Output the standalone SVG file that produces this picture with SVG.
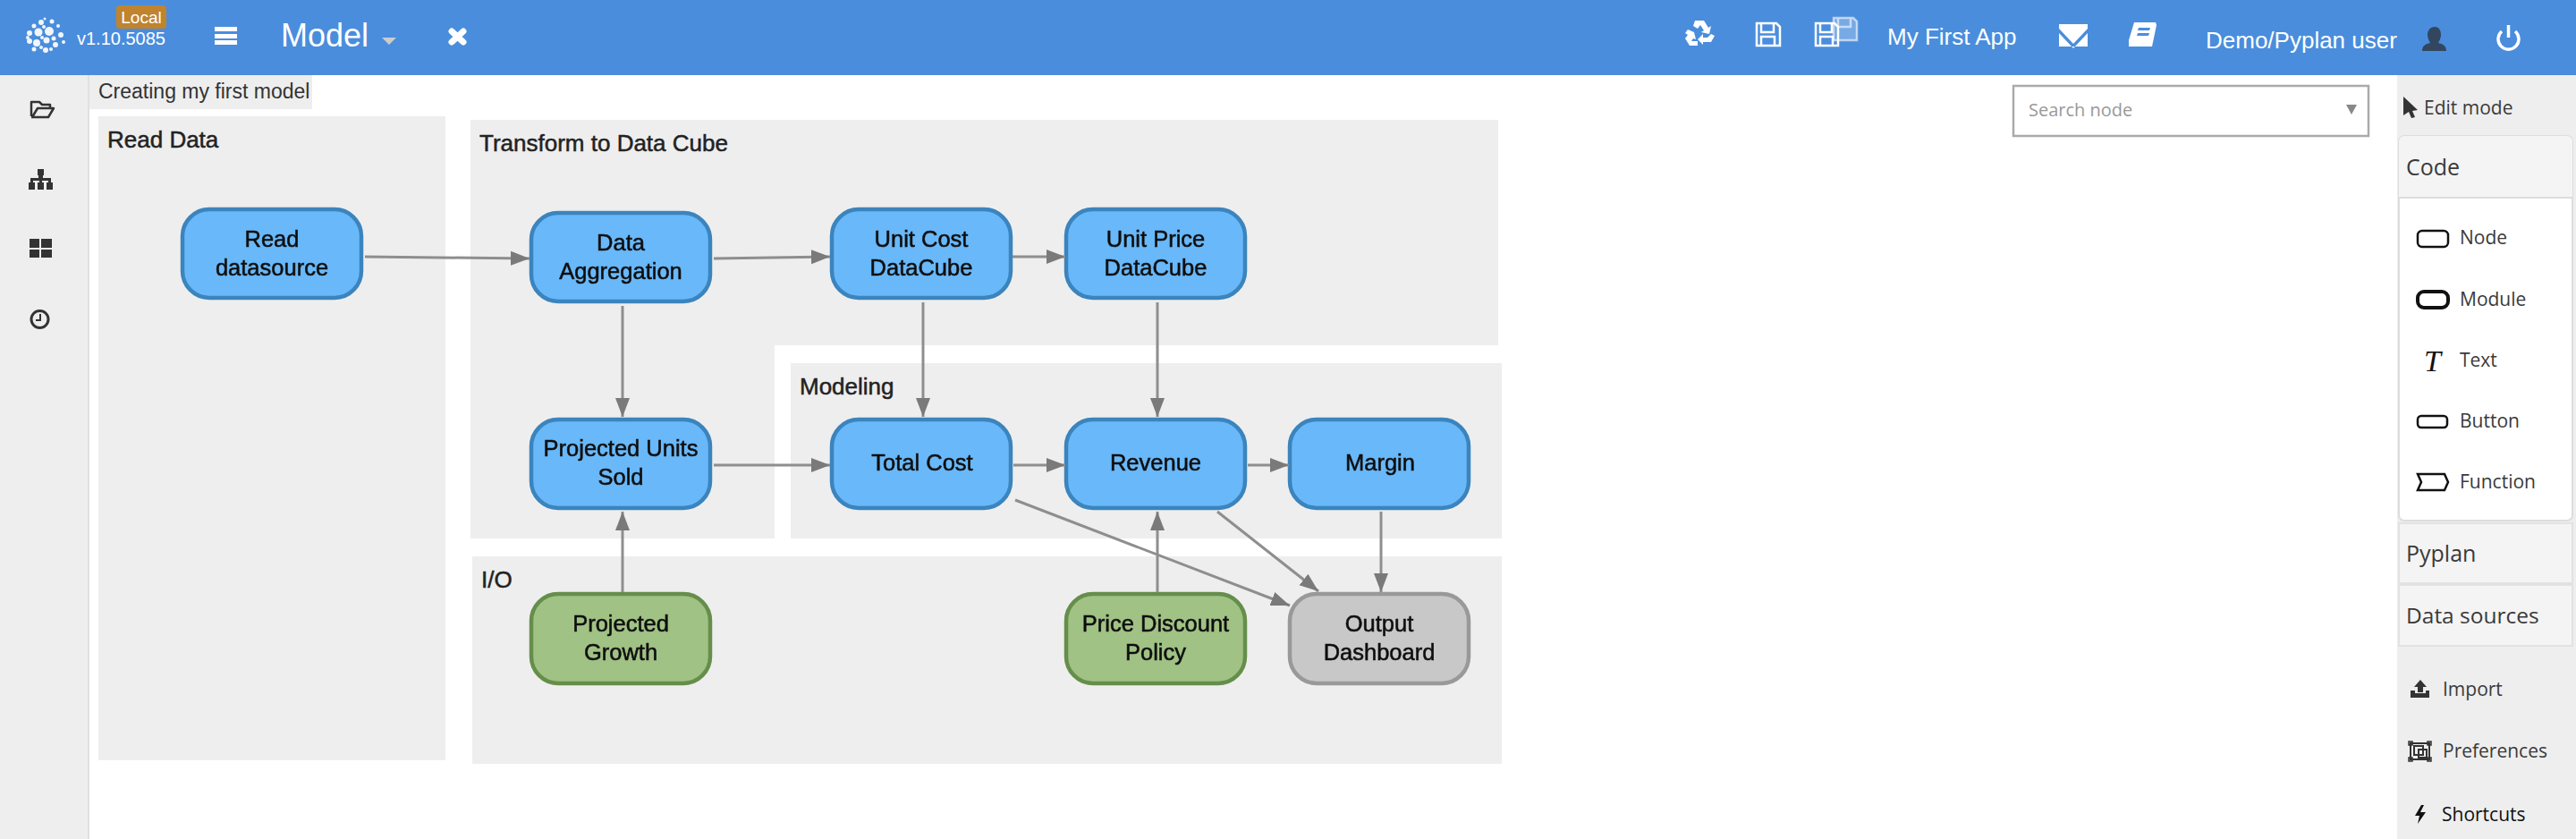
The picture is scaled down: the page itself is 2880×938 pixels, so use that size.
<svg xmlns="http://www.w3.org/2000/svg" width="2880" height="938" viewBox="0 0 2880 938">
<style>
text{font-family:"Liberation Sans",Arial,sans-serif}
.g{fill:#eee}
.gl{font-size:26px;fill:#222;stroke:#222;stroke-width:.5px}
.n rect{stroke-width:4.500}
.b rect{fill:#69b8f9;stroke:#3a84bd}
.gr rect{fill:#a0c284;stroke:#668e4c}
.o rect{fill:#c8c8c8;stroke:#999}
.n text{font-size:25.5px;fill:#111;stroke:#111;stroke-width:.55px;text-anchor:middle}
.c line{stroke:#8e8e8e;stroke-width:3;marker-end:url(#a)}
.h{fill:#fff}
.p{font-family:"Open Sans","Noto Sans",sans-serif;fill:#3a3a3a}
.pn{fill:#f4f4f4;stroke:#e2e2e2;stroke-width:2}
.ic{fill:none;stroke:#111;stroke-width:2.500}
.si{fill:#333}
</style>
<defs>
<marker id="a" markerUnits="userSpaceOnUse" markerWidth="24" markerHeight="20" refX="21" refY="10" orient="auto"><path d="M0 2L21 10L0 18Z" fill="#7a7a7a"/></marker>
<filter id="s" x="-2%" y="-2%" width="104%" height="104%"><feGaussianBlur stdDeviation="0.7"/></filter>
</defs>
<rect width="2880" height="938" fill="#fff"/>
<g id="left-sidebar">
<rect x="0" y="84" width="98" height="854" fill="#eee"/><rect x="98" y="84" width="2" height="854" fill="#e3dfe0"/>
<path d="M35 130V114h9l3 3h9v4M35 131h19l6-10H42l-6 10" fill="none" stroke="#333" stroke-width="2.500" stroke-linejoin="round"/>
<path class="si" d="M42 189h7v7h-1v3h9v5h2v8h-7v-8h2v-2h-7v2h2v8h-7v-8h2v-2h-7v2h2v8h-7v-8h2v-5h9v-3h-1z"/>
<path class="si" d="M33 267h11v10H33zM46 267h12v10H46zM33 279h11v9H33zM46 279h12v9H46z"/>
<circle cx="44.500" cy="357" r="9.500" fill="none" stroke="#333" stroke-width="3"/><path d="M45 351v7h-5" fill="none" stroke="#333" stroke-width="2"/>
</g>
<g id="header">
<rect width="2880" height="84" fill="#4a8ddc"/>
<g id="logo" fill="#fff" opacity=".92"><circle cx="43" cy="36" r="4.500"/><circle cx="55" cy="35" r="5"/><circle cx="41" cy="48" r="4"/><circle cx="52" cy="45" r="3.500"/><circle cx="62" cy="50" r="3"/><circle cx="68" cy="39" r="3"/><circle cx="33" cy="37" r="3"/><circle cx="33" cy="46" r="3"/><circle cx="46" cy="25" r="3"/><circle cx="58" cy="24" r="2.500"/><circle cx="51" cy="56" r="3"/><circle cx="38" cy="29" r="2.500"/><circle cx="65" cy="29" r="2"/><circle cx="71" cy="47" r="2"/><circle cx="47" cy="42" r="2"/><circle cx="60" cy="43" r="2.500"/><circle cx="38" cy="55" r="2.500"/><circle cx="57" cy="55" r="2"/><circle cx="31" cy="42" r="2"/><circle cx="50" cy="21" r="1.500"/><circle cx="46" cy="53" r="2"/><circle cx="49" cy="30" r="2"/></g>
<rect x="130" y="6" width="56" height="26" rx="4" fill="#c0832e"/>
<text x="158" y="26" font-size="19" fill="#fff" text-anchor="middle">Local</text>
<text x="86" y="50" font-size="20" fill="#fff">v1.10.5085</text>
<path class="h" d="M240 30h25v5h-25zM240 38h25v5h-25zM240 45h25v5h-25z"/>
<text x="314" y="52" font-size="36" fill="#fff">Model</text>
<path d="M427 42h16l-8 8z" fill="#ccc"/>
<path d="M505 35L518 47" stroke="#fff" stroke-width="7" stroke-linecap="round"/><path d="M518 35L505 47" stroke="#fff" stroke-width="7" stroke-linecap="round"/>
<path class="h" d="M1895 23h10l5 8 3-2-2 9-9-2 3-2-4-6-3 4-5-3zM1887 33l7 3 2 8-3-1-2 3h7v5h-9l-5-8 3-4-3-2zM1917 40l-4 7h-9v3l-6-6 6-6v4h5l4-4z"/>
<path d="M1964 26h22l4 4v21h-26zM1969 26v10h14V26M1969 51V41h15v10" fill="none" stroke="#fff" stroke-width="2.500"/>
<path d="M2050 20h22l4 4v21h-26z" fill="#fff" fill-opacity=".25"/><path d="M2050 20h22l4 4v21h-26zM2055 20v10h14V20" fill="none" stroke="#fff" stroke-width="2.500" opacity=".6"/>
<path d="M2030 26h21l4 4v21h-25zM2035 26v10h13V26M2035 51V41h14v10" fill="none" stroke="#fff" stroke-width="2.500"/>
<text x="2110" y="50" font-size="26" fill="#fff">My First App</text>
<path class="h" d="M2302 27h32v5l-16 17-16-17zM2302 37l16 17 16-17v15h-32z"/>
<path class="h" d="M2386 25h24l1 3-5 24h-26v-7zM2391 31l-1 3h13l1-3zM2390 37l-1 3h13l1-3z"/>
<text x="2466" y="54" font-size="26" fill="#fff">Demo/Pyplan user</text>
<path fill="#32475f" d="M2722 30c5 0 7 4 7 9 0 4-2 7-3 9 5 1 9 3 9 9h-27c0-6 4-8 9-9-1-2-3-5-3-9 0-5 3-9 8-9z"/>
<path d="M2797 35a11.500 11.500 0 1 0 15 0M2804.500 28v14" fill="none" stroke="#fff" stroke-width="3.500"/>
</g>
<g id="tab"><rect x="100" y="84" width="249" height="38" fill="#eee"/><text x="110" y="110" font-size="23" fill="#333">Creating my first model</text></g>
<g id="groups">
<rect class="g" x="110" y="130" width="388" height="720"/>
<path class="g" d="M526 134H1675V386H866V602H526Z"/>
<rect class="g" x="884" y="406" width="795" height="196"/>
<rect class="g" x="528" y="622" width="1151" height="232"/>
<text class="gl" x="120" y="165">Read Data</text>
<text class="gl" x="536" y="169">Transform to Data Cube</text>
<text class="gl" x="894" y="441">Modeling</text>
<text class="gl" x="538" y="657">I/O</text>
</g>
<g id="nodes" filter="url(#s)">
<g id="read-datasource" class="n b"><rect x="204" y="234" width="200" height="99" rx="30"/><text x="304" y="276">Read</text><text x="304" y="308">datasource</text></g>
<g id="data-aggregation" class="n b"><rect x="594" y="238" width="200" height="99" rx="30"/><text x="694" y="280">Data</text><text x="694" y="312">Aggregation</text></g>
<g id="unit-cost" class="n b"><rect x="930" y="234" width="200" height="99" rx="30"/><text x="1030" y="276">Unit Cost</text><text x="1030" y="308">DataCube</text></g>
<g id="unit-price" class="n b"><rect x="1192" y="234" width="200" height="99" rx="30"/><text x="1292" y="276">Unit Price</text><text x="1292" y="308">DataCube</text></g>
<g id="projected-units" class="n b"><rect x="594" y="469" width="200" height="99" rx="30"/><text x="694" y="510">Projected Units</text><text x="694" y="542">Sold</text></g>
<g id="total-cost" class="n b"><rect x="930" y="469" width="200" height="99" rx="30"/><text x="1031" y="526">Total Cost</text></g>
<g id="revenue" class="n b"><rect x="1192" y="469" width="200" height="99" rx="30"/><text x="1292" y="526">Revenue</text></g>
<g id="margin" class="n b"><rect x="1442" y="469" width="200" height="99" rx="30"/><text x="1543" y="526">Margin</text></g>
<g id="projected-growth" class="n gr"><rect x="594" y="664" width="200" height="100" rx="30"/><text x="694" y="706">Projected</text><text x="694" y="738">Growth</text></g>
<g id="price-discount" class="n gr"><rect x="1192" y="664" width="200" height="100" rx="30"/><text x="1292" y="706">Price Discount</text><text x="1292" y="738">Policy</text></g>
<g id="output-dashboard" class="n o"><rect x="1442" y="664" width="200" height="100" rx="30"/><text x="1542" y="706">Output</text><text x="1542" y="738">Dashboard</text></g>
</g>
<g id="connectors" class="c" filter="url(#s)">
<line x1="408" y1="287" x2="592" y2="289"/>
<line x1="798" y1="289" x2="928" y2="287"/>
<line x1="1132" y1="287" x2="1191" y2="287"/>
<line x1="696" y1="342" x2="696" y2="466"/>
<line x1="798" y1="520" x2="928" y2="520"/>
<line x1="1133" y1="520" x2="1191" y2="520"/>
<line x1="1395" y1="520" x2="1441" y2="520"/>
<line x1="1032" y1="338" x2="1032" y2="466"/>
<line x1="1294" y1="338" x2="1294" y2="466"/>
<line x1="696" y1="662" x2="696" y2="572"/>
<line x1="1294" y1="662" x2="1294" y2="572"/>
<line x1="1135" y1="559" x2="1442" y2="677"/>
<line x1="1361" y1="572" x2="1474" y2="661"/>
<line x1="1544" y1="572" x2="1544" y2="662"/>
</g>
<g id="search">
<rect x="2251" y="96" width="397" height="56" fill="#fff" stroke="#aaa" stroke-width="2.500"/>
<text x="2268" y="130" font-size="20" fill="#999" style="font-family:'Open Sans','Noto Sans',sans-serif">Search node</text>
<path d="M2623 117h12l-6 11z" fill="#888"/>
</g>
<g id="right-panel">
<rect x="2680" y="84" width="200" height="854" fill="#eee"/>
<path d="M2687 108l16 15-6 1 3 7-4 1-3-7-6 4z" fill="#333"/>
<text class="p" x="2710" y="128" font-size="21">Edit mode</text>
<rect x="2682" y="152" width="194" height="430" rx="6" fill="#fff" stroke="#ddd" stroke-width="2"/>
<path d="M2682 220V158a6 6 0 0 1 6-6H2870a6 6 0 0 1 6 6V220Z" fill="#f4f4f4"/><path d="M2682 221h194" stroke="#ddd" stroke-width="2"/>
<text class="p" x="2690" y="196" font-size="25">Code</text>
<rect class="ic" x="2703" y="258" width="34" height="18" rx="5"/><text class="p" x="2750" y="273" font-size="21">Node</text>
<rect class="ic" x="2703" y="326" width="34" height="18" rx="7" style="stroke-width:4"/><text class="p" x="2750" y="342" font-size="21">Module</text>
<text x="2710" y="415" font-size="34" font-style="italic" fill="#111" style="font-family:'Liberation Serif',serif">T</text><text class="p" x="2750" y="410" font-size="21">Text</text>
<rect class="ic" x="2703" y="465" width="33" height="13" rx="4"/><text class="p" x="2750" y="478" font-size="21">Button</text>
<path class="ic" d="M2703 530H2733L2737 539L2733 548H2703L2707 539Z"/><text class="p" x="2750" y="546" font-size="21">Function</text>
<rect class="pn" x="2682" y="585" width="194" height="67"/><text class="p" x="2690" y="628" font-size="25">Pyplan</text>
<rect class="pn" x="2682" y="654" width="194" height="68"/><text class="p" x="2690" y="697" font-size="24.500">Data sources</text>
<path class="si" d="M2706 760l7 8h-4v6h-6v-6h-4zM2695 772h5v3h12v-3h4v8h-21z"/><text class="p" x="2731" y="778" font-size="21">Import</text>
<g fill="none" stroke="#333" stroke-width="2"><path d="M2695 831h21v18h-21zM2699 834h10v10h-10zM2704 838h9v9h-9z"/><path d="M2693 829h4v4h-4zM2714 829h4v4h-4zM2693 847h4v4h-4zM2714 847h4v4h-4z" stroke-width="1.500"/></g><text class="p" x="2731" y="847" font-size="21">Preferences</text>
<path d="M2707 900l-7 12h5l-2 9 9-13h-6l4-8z" fill="#111"/><text class="p" x="2730" y="918" font-size="21" style="fill:#111">Shortcuts</text>
</g>
</svg>
